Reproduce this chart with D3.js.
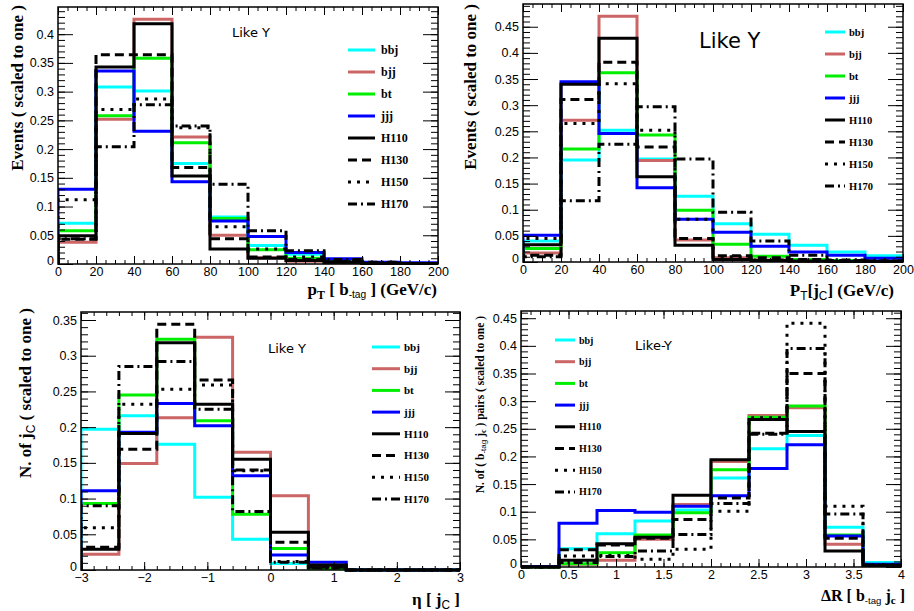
<!DOCTYPE html>
<html><head><meta charset="utf-8">
<script src="https://cdn.jsdelivr.net/npm/d3@7"></script>
<style>body{margin:0;background:#fff} svg{display:block}</style>
</head><body>
<svg id="c" width="914" height="611"></svg>
<script>
// ---------- data ----------
const seriesNames = ["bbj","bjj","bt","jjj","H110","H130","H150","H170"];
const seriesColors = ["#00ffff","#cc6666","#00ee00","#0000ff","#000000","#000000","#000000","#000000"];
const seriesDash = [null,null,null,null,null,"9,5","3,6","9,4,2,4"];

// Panel 1: pT of b-tag (bins 0..200 step 20)
const ptbEdges = [0,20,40,60,80,100,120,140,160,180,200];
const ptb_bbj  = [0.071,0.308,0.301,0.175,0.082,0.032,0.017,0.005,0.002,0.001];
const ptb_bjj  = [0.038,0.252,0.426,0.221,0.050,0.011,0.005,0.002,0.001,0.001];
const ptb_bt   = [0.058,0.258,0.358,0.211,0.079,0.025,0.010,0.003,0.001,0.001];
const ptb_jjj  = [0.130,0.336,0.231,0.143,0.075,0.048,0.020,0.009,0.003,0.002];
const ptb_H110 = [0.049,0.343,0.418,0.153,0.026,0.010,0.006,0.003,0.001,0.001];
const ptb_H130 = [0.043,0.364,0.364,0.168,0.044,0.012,0.008,0.004,0.001,0.001];
const ptb_H150 = [0.112,0.269,0.287,0.237,0.065,0.026,0.012,0.005,0.002,0.001];
const ptb_H170 = [0.044,0.204,0.277,0.240,0.139,0.058,0.023,0.008,0.003,0.001];

// Panel 2: pT of jC
const ptjEdges = [0,20,40,60,80,100,120,140,160,180,200];
const ptj_bbj  = [0.040,0.195,0.252,0.197,0.126,0.073,0.053,0.032,0.019,0.012];
const ptj_bjj  = [0.017,0.271,0.470,0.194,0.042,0.008,0.004,0.002,0.001,0.001];
const ptj_bt   = [0.026,0.216,0.362,0.243,0.099,0.034,0.011,0.005,0.003,0.002];
const ptj_jjj  = [0.051,0.345,0.246,0.142,0.082,0.057,0.030,0.019,0.013,0.007];
const ptj_H110 = [0.033,0.340,0.428,0.163,0.032,0.005,0.003,0.002,0.001,0.001];
const ptj_H130 = [0.013,0.311,0.382,0.220,0.045,0.012,0.008,0.005,0.003,0.002];
const ptj_H150 = [0.045,0.265,0.341,0.252,0.082,0.010,0.004,0.002,0.001,0.001];
const ptj_H170 = [0.010,0.117,0.225,0.297,0.197,0.095,0.040,0.013,0.004,0.002];

// Panel 3: eta of jC (bins -3..3 step 0.6)
const etaEdges = [-3,-2.4,-1.8,-1.2,-0.6,0,0.6,1.2,1.8,2.4,3];
const eta_bbj  = [0.197,0.216,0.176,0.102,0.043,0.009,0.002,0,0,0];
const eta_bjj  = [0.022,0.149,0.213,0.326,0.165,0.104,0.006,0,0,0];
const eta_bt   = [0.093,0.245,0.323,0.209,0.078,0.030,0.002,0,0,0];
const eta_jjj  = [0.111,0.193,0.233,0.202,0.132,0.021,0.011,0,0,0];
const eta_H110 = [0.029,0.191,0.318,0.232,0.155,0.053,0.007,0,0,0];
const eta_H130 = [0.032,0.169,0.344,0.266,0.140,0.039,0.004,0,0,0];
const eta_H150 = [0.059,0.232,0.253,0.259,0.139,0.012,0.003,0,0,0];
const eta_H170 = [0.090,0.285,0.292,0.225,0.082,0.011,0.003,0,0,0];

// Panel 4: DeltaR(b-tag, jc) (bins 0..4 step 0.4)
const drEdges = [0,0.4,0.8,1.2,1.6,2.0,2.4,2.8,3.2,3.6,4.0];
const dr_bbj  = [0.001,0.033,0.060,0.083,0.103,0.161,0.214,0.238,0.072,0.008];
const dr_bjj  = [0.000,0.005,0.012,0.050,0.113,0.191,0.274,0.288,0.041,0.003];
const dr_bt   = [0.000,0.006,0.026,0.058,0.098,0.176,0.271,0.291,0.058,0.003];
const dr_jjj  = [0.001,0.079,0.102,0.099,0.110,0.129,0.178,0.221,0.056,0.005];
const dr_H110 = [0.000,0.012,0.042,0.054,0.130,0.194,0.267,0.245,0.029,0.003];
const dr_H130 = [0.000,0.031,0.040,0.052,0.086,0.125,0.242,0.350,0.052,0.003];
const dr_H150 = [0.000,0.020,0.021,0.014,0.032,0.101,0.270,0.441,0.110,0.003];
const dr_H170 = [0.000,0.008,0.019,0.029,0.059,0.115,0.240,0.395,0.096,0.003];

// tick settings
const ptTicks = [0,20,40,60,80,100,120,140,160,180,200];
const etaTicks = [-3,-2,-1,0,1,2,3];
const drTicks = [0,0.5,1,1.5,2,2.5,3,3.5,4];

// ---------- drawing ----------
const svg = d3.select("#c");
const SERIF = "'Liberation Serif','Times New Roman',serif";
const SANS = "'Liberation Sans',Arial,Helvetica,sans-serif";

function fmtNum(v){ const s = String(+v.toFixed(3)); return v < 0 ? "\u2212" + s.slice(1) : s; }

function drawPanel(cfg){
  const g = svg.append("g");
  const x = d3.scaleLinear().domain(cfg.xDomain).range([cfg.left, cfg.right]);
  const ymax = d3.max(cfg.data.flat()) * 1.05;
  const y = d3.scaleLinear().domain([0, ymax]).range([cfg.bottom, cfg.top]);

  const clipId = "clip" + cfg.id;
  svg.append("clipPath").attr("id", clipId).append("rect")
    .attr("x", cfg.left).attr("y", cfg.top)
    .attr("width", cfg.right - cfg.left).attr("height", cfg.bottom - cfg.top + 2);

  const line = d3.line().x(d => x(d[0])).y(d => y(d[1]));
  const hg = g.append("g").attr("clip-path", `url(#${clipId})`);
  cfg.data.forEach((vals, i) => {
    const pts = [[cfg.edges[0], 0]];
    vals.forEach((v, k) => { pts.push([cfg.edges[k], v]); pts.push([cfg.edges[k+1], v]); });
    pts.push([cfg.edges[cfg.edges.length-1], 0]);
    hg.append("path").attr("d", line(pts)).attr("fill", "none")
      .attr("stroke", seriesColors[i]).attr("stroke-width", 3)
      .attr("stroke-dasharray", seriesDash[i]);
  });

  const yMajor = d3.range(0, Math.floor(ymax/0.05 + 1e-6) + 1).map(k => +(k*0.05).toFixed(2));
  const yMinor = d3.range(0, Math.floor(ymax/0.01 + 1e-6) + 1).map(k => +(k*0.01).toFixed(2));
  const ax = (axisFn, scale, vals, size, lab, tx, ty, pad) => {
    const a = axisFn(scale).tickValues(vals).tickSize(size).tickSizeOuter(0).tickPadding(lab ? pad : 0)
      .tickFormat(lab ? fmtNum : () => "");
    const gg = g.append("g").attr("transform", `translate(${tx},${ty})`).call(a);
    gg.select(".domain").remove();
    gg.selectAll("line").attr("stroke", "#000").attr("stroke-width", 1);
    gg.selectAll("text").attr("font-family", SANS).attr("font-size", 12.5).attr("fill", "#000");
    return gg;
  };
  ax(d3.axisLeft, y, yMinor, -7, false, cfg.left, 0);
  const yl = ax(d3.axisLeft, y, yMajor, -15, true, cfg.left, 0, 4);
  yl.selectAll("text").filter(d => d === 0).attr("dy", "0.05em");
  ax(d3.axisRight, y, yMinor, -7, false, cfg.right, 0);
  ax(d3.axisRight, y, yMajor, -15, false, cfg.right, 0);
  ax(d3.axisBottom, x, cfg.xMinor, -4, false, 0, cfg.bottom);
  const xl = ax(d3.axisBottom, x, cfg.xTicks, -8, true, 0, cfg.bottom, 2);
  xl.selectAll("text").attr("dy", "0.8em");
  ax(d3.axisTop, x, cfg.xMinor, -4, false, 0, cfg.top);
  ax(d3.axisTop, x, cfg.xTicks, -8, false, 0, cfg.top);

  g.append("rect").attr("x", cfg.left).attr("y", cfg.top)
    .attr("width", cfg.right - cfg.left).attr("height", cfg.bottom - cfg.top)
    .attr("fill", "none").attr("stroke", "#000").attr("stroke-width", 1.5);

  // legend
  const L = cfg.legend;
  seriesNames.forEach((nm, i) => {
    const yy = L.y0 + i * L.dy;
    g.append("line").attr("x1", L.x1).attr("x2", L.x2).attr("y1", yy).attr("y2", yy)
      .attr("stroke", seriesColors[i]).attr("stroke-width", 3)
      .attr("stroke-dasharray", seriesDash[i]);
    g.append("text").attr("x", L.tx).attr("y", yy).attr("dy", "0.35em")
      .attr("font-family", SERIF).attr("font-weight", "bold").attr("font-size", L.fs).text(nm);
  });

  g.append("text").attr("x", cfg.note.x).attr("y", cfg.note.y)
    .attr("font-family", "'DejaVu Sans',sans-serif").attr("font-size", cfg.note.fs)
    .attr("fill", "#000").text(cfg.note.t);
  return g;
}

const etaMinor = d3.range(-15, 16).map(k => +(k*0.2).toFixed(1));
const drMinor = d3.range(0, 41).map(k => +(k*0.1).toFixed(1));
const ptMinor = d3.range(0, 41).map(k => k*5);

drawPanel({id:1, left:58, right:438, top:7, bottom:264, xDomain:[0,200], edges:ptbEdges,
  xTicks:ptTicks, xMinor:ptMinor,
  data:[ptb_bbj,ptb_bjj,ptb_bt,ptb_jjj,ptb_H110,ptb_H130,ptb_H150,ptb_H170],
  legend:{x1:348,x2:375,tx:381,y0:50,dy:22,fs:12},
  note:{x:232,y:37,fs:13,t:"Like Y"}});
drawPanel({id:2, left:523, right:903, top:4, bottom:262, xDomain:[0,200], edges:ptjEdges,
  xTicks:ptTicks, xMinor:ptMinor,
  data:[ptj_bbj,ptj_bjj,ptj_bt,ptj_jjj,ptj_H110,ptj_H130,ptj_H150,ptj_H170],
  legend:{x1:825,x2:845,tx:849,y0:32,dy:22,fs:10.5},
  note:{x:699,y:48,fs:21,t:"Like Y"}});
drawPanel({id:3, left:81, right:460, top:312, bottom:570, xDomain:[-3,3], edges:etaEdges,
  xTicks:etaTicks, xMinor:etaMinor,
  data:[eta_bbj,eta_bjj,eta_bt,eta_jjj,eta_H110,eta_H130,eta_H150,eta_H170],
  legend:{x1:372,x2:400,tx:404,y0:347,dy:21.7,fs:11},
  note:{x:268,y:353,fs:13,t:"Like Y"}});
drawPanel({id:4, left:521, right:901, top:311, bottom:567, xDomain:[0,4], edges:drEdges,
  xTicks:drTicks, xMinor:drMinor,
  data:[dr_bbj,dr_bjj,dr_bt,dr_jjj,dr_H110,dr_H130,dr_H150,dr_H170],
  legend:{x1:555,x2:575,tx:579,y0:340,dy:21.7,fs:10},
  note:{x:635,y:350,fs:13,t:"Like-Y"}});

// ---------- axis titles ----------
function title(x, y, rot, anchor, parts, fs){
  const t = svg.append("text").attr("transform", `translate(${x},${y}) rotate(${rot})`)
    .attr("text-anchor", anchor).attr("font-family", SERIF).attr("font-weight", "bold")
    .attr("font-size", fs).attr("fill", "#000");
  parts.forEach(p => {
    const s = t.append("tspan").text(p.t);
    if (p.sub) s.attr("baseline-shift", "-30%").attr("font-size", fs * (p.scale || 0.7));
    if (p.sans) s.attr("font-family", SANS).attr("font-weight", "normal");
  });
  return t;
}
title(23, 5, -90, "end", [{t:"Events  ( scaled to one )"}], 17);
title(476, 4, -90, "end", [{t:"Events  ( scaled to one )"}], 17);
title(31, 308, -90, "end", [{t:"N. of  j"},{t:"C",sub:true,sans:true},{t:" ( scaled to one )"}], 17);
title(484, 316, -90, "end", [{t:"N. of ( b"},{t:"-tag",sub:true,sans:true},{t:" j"},{t:"c",sub:true},{t:" ) pairs ( scaled to one )"}], 11.5);

title(437, 295, 0, "end", [{t:"p"},{t:"T",sub:true},{t:" [ b"},{t:"-tag",sub:true,sans:true,scale:0.6},{t:"  ] (GeV/c)"}], 17);
title(894, 296, 0, "end", [{t:"P"},{t:"T",sub:true,sans:true},{t:"[j"},{t:"C",sub:true,sans:true},{t:"] (GeV/c)"}], 17);
title(460, 605, 0, "end", [{t:"\u03b7 [ j"},{t:"C",sub:true,sans:true},{t:" ]"}], 17);
title(905, 601, 0, "end", [{t:"\u0394R [ b"},{t:"-tag",sub:true,sans:true,scale:0.6},{t:"   j"},{t:"c",sub:true},{t:" ]"}], 16);
</script>
</body></html>
